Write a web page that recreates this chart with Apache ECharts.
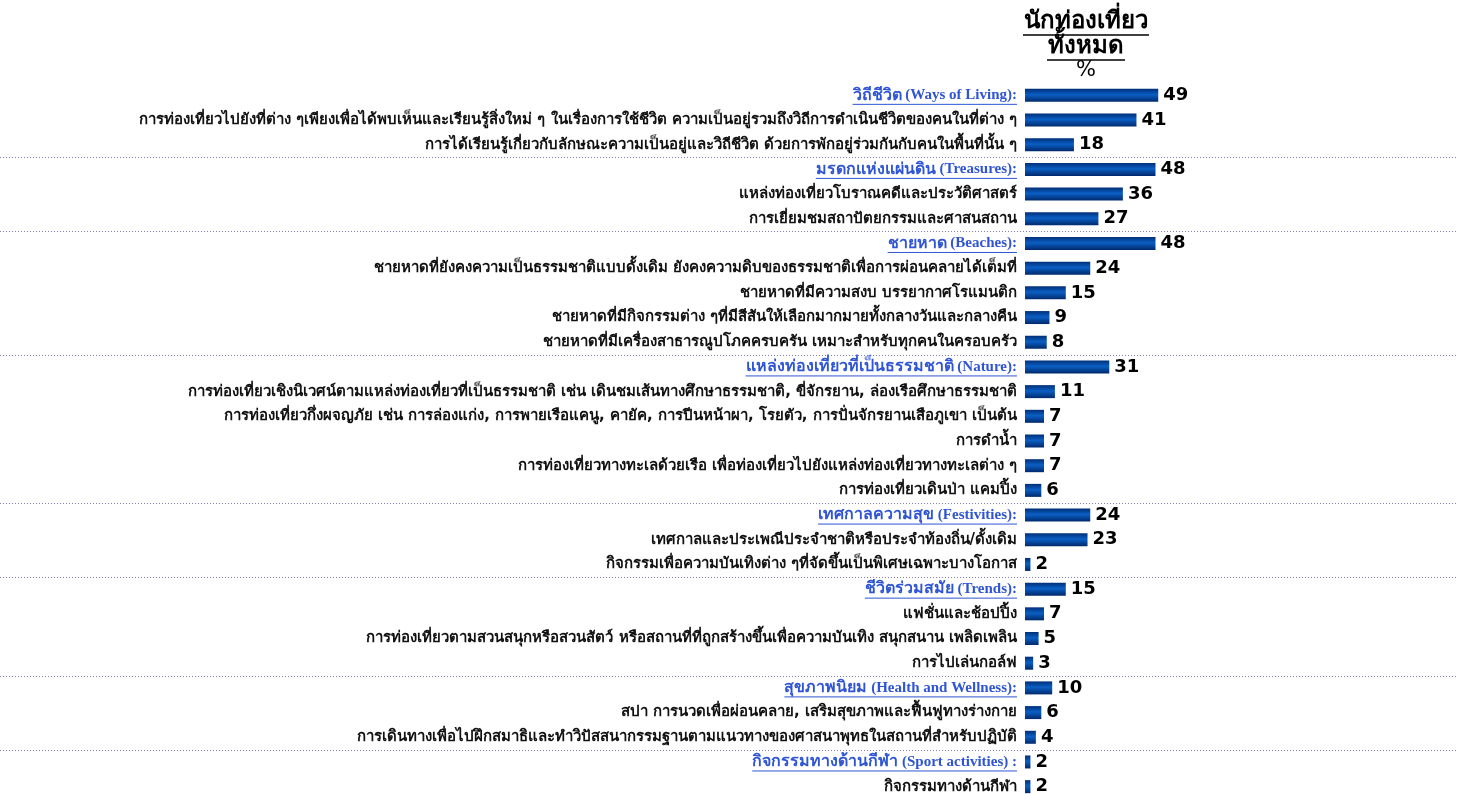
<!DOCTYPE html>
<html>
<head>
<meta charset="utf-8">
<script src="https://cdn.jsdelivr.net/npm/echarts@6/dist/echarts.min.js"></script>
<style>
  html, body { margin: 0; padding: 0; background: #ffffff; }
  #chart { width: 1464px; height: 794px; }
</style>
</head>
<body>
<div id="chart"></div>
<script>
// Travel interest by activity group (% of all tourists)
const categories = [
  'วิถีชีวิต (Ways of Living):',
  'การท่องเที่ยวไปยังที่ต่าง ๆเพียงเพื่อได้พบเห็นและเรียนรู้สิ่งใหม่ ๆ ในเรื่องการใช้ชีวิต ความเป็นอยู่รวมถึงวิถีการดำเนินชีวิตของคนในที่ต่าง ๆ',
  'การได้เรียนรู้เกี่ยวกับลักษณะความเป็นอยู่และวิถีชีวิต ด้วยการพักอยู่ร่วมกันกับคนในพื้นที่นั้น ๆ',
  'มรดกแห่งแผ่นดิน (Treasures):',
  'แหล่งท่องเที่ยวโบราณคดีและประวัติศาสตร์',
  'การเยี่ยมชมสถาปัตยกรรมและศาสนสถาน',
  'ชายหาด (Beaches):',
  'ชายหาดที่ยังคงความเป็นธรรมชาติแบบดั้งเดิม ยังคงความดิบของธรรมชาติเพื่อการผ่อนคลายได้เต็มที่',
  'ชายหาดที่มีความสงบ บรรยากาศโรแมนติก',
  'ชายหาดที่มีกิจกรรมต่าง ๆที่มีสีสันให้เลือกมากมายทั้งกลางวันและกลางคืน',
  'ชายหาดที่มีเครื่องสาธารณูปโภคครบครัน เหมาะสำหรับทุกคนในครอบครัว',
  'แหล่งท่องเที่ยวที่เป็นธรรมชาติ (Nature):',
  'การท่องเที่ยวเชิงนิเวศน์ตามแหล่งท่องเที่ยวที่เป็นธรรมชาติ เช่น เดินชมเส้นทางศึกษาธรรมชาติ, ขี่จักรยาน, ล่องเรือศึกษาธรรมชาติ',
  'การท่องเที่ยวกึ่งผจญภัย เช่น การล่องแก่ง, การพายเรือแคนู, คายัค, การปีนหน้าผา, โรยตัว, การปั่นจักรยานเสือภูเขา เป็นต้น',
  'การดำน้ำ',
  'การท่องเที่ยวทางทะเลด้วยเรือ เพื่อท่องเที่ยวไปยังแหล่งท่องเที่ยวทางทะเลต่าง ๆ',
  'การท่องเที่ยวเดินป่า แคมปิ้ง',
  'เทศกาลความสุข (Festivities):',
  'เทศกาลและประเพณีประจำชาติหรือประจำท้องถิ่น/ดั้งเดิม',
  'กิจกรรมเพื่อความบันเทิงต่าง ๆที่จัดขึ้นเป็นพิเศษเฉพาะบางโอกาส',
  'ชีวิตร่วมสมัย (Trends):',
  'แฟชั่นและช้อปปิ้ง',
  'การท่องเที่ยวตามสวนสนุกหรือสวนสัตว์ หรือสถานที่ที่ถูกสร้างขึ้นเพื่อความบันเทิง สนุกสนาน เพลิดเพลิน',
  'การไปเล่นกอล์ฟ',
  'สุขภาพนิยม (Health and Wellness):',
  'สปา การนวดเพื่อผ่อนคลาย, เสริมสุขภาพและฟื้นฟูทางร่างกาย',
  'การเดินทางเพื่อไปฝึกสมาธิและทำวิปัสสนากรรมฐานตามแนวทางของศาสนาพุทธในสถานที่สำหรับปฏิบัติ',
  'กิจกรรมทางด้านกีฬา (Sport activities) :',
  'กิจกรรมทางด้านกีฬา'
];
const values = [49, 41, 18, 48, 36, 27, 48, 24, 15, 9, 8, 31, 11, 7, 7, 7, 6, 24, 23, 2, 15, 7, 5, 3, 10, 6, 4, 2, 2];
// rows that open a group (blue, underlined headings)
const groupStarts = [0, 3, 6, 11, 17, 20, 24, 27];
const headerLines = ['นักท่องเที่ยว', 'ทั้งหมด', '%'];

const LABEL_MARGIN = 8;
const THAI_FAMILY = 'Tahoma, "DejaVu Sans", "Noto Sans", sans-serif';
const SERIF_FAMILY = '"Liberation Serif", "Times New Roman", serif';
const HEAD_THAI_FONT = 'bold 16px ' + THAI_FAMILY;
const HEAD_LATIN_FONT = 'bold 15px ' + SERIF_FAMILY;
const BLUE = '#2f55d4';

// split a heading into its Thai name and the bracketed English part
function splitHeading(s) {
  const k = s.indexOf(' (');
  return k < 0 ? [s, ''] : [s.slice(0, k), s.slice(k)];
}

const chart = echarts.init(document.getElementById('chart'), null, { renderer: 'canvas' });

const barGradient = new echarts.graphic.LinearGradient(0, 0, 0, 1, [
  { offset: 0, color: '#002f78' },
  { offset: 0.45, color: '#0b5fc4' },
  { offset: 1, color: '#00296c' }
]);

const option = {
  backgroundColor: '#ffffff',
  animation: false,
  grid: { left: 1025, right: 4, top: 83, height: 716, outerBoundsMode: 'none', containLabel: false },
  xAxis: {
    type: 'value',
    min: 0,
    max: 160,
    show: false
  },
  yAxis: {
    type: 'category',
    inverse: true,
    data: categories,
    axisLine: { show: false },
    axisTick: { show: false },
    splitLine: { show: false },
    axisLabel: {
      margin: LABEL_MARGIN,
      interval: 0,
      formatter: (v, i) => {
        if (groupStarts.indexOf(i) >= 0) {
          const p = splitHeading(v);
          return '{ht|' + p[0] + '}{hl|' + p[1] + '}';
        }
        return '{n|' + v + '}';
      },
      rich: {
        ht: { fontFamily: THAI_FAMILY, fontWeight: 'bold', fontSize: 16, color: BLUE },
        hl: { fontFamily: SERIF_FAMILY, fontWeight: 'bold', fontSize: 15, color: BLUE },
        n: { fontFamily: THAI_FAMILY, fontWeight: 'bold', fontSize: 15, color: '#111111' }
      }
    }
  },
  series: [{
    type: 'bar',
    data: values,
    barWidth: 13,
    itemStyle: { color: barGradient },
    label: {
      show: true,
      position: 'right',
      distance: 5,
      color: '#000000',
      fontFamily: '"DejaVu Sans", Verdana, sans-serif',
      fontWeight: 'bold',
      fontSize: 18
    }
  }]
};
chart.setOption(option);

// heading block, group separators and underlines under group headings
function decorations() {
  const els = [];
  const zeroX = chart.convertToPixel({ xAxisIndex: 0 }, 0);
  const ctx = document.createElement('canvas').getContext('2d');

  const centerX = 1086;
  const titleFont = 'bold 24px ' + THAI_FAMILY;
  ctx.font = titleFont;
  const ys = [22, 47];
  headerLines.slice(0, 2).forEach((t, k) => {
    els.push({
      type: 'text', silent: true,
      x: centerX, y: ys[k],
      style: { text: t, font: titleFont, fill: '#000', align: 'center', verticalAlign: 'middle' }
    });
    const w = ctx.measureText(t).width;
    els.push({
      type: 'line', silent: true,
      shape: { x1: centerX - w / 2 - 1, y1: ys[k] + 13, x2: centerX + w / 2 + 1, y2: ys[k] + 13 },
      style: { stroke: '#000', lineWidth: 1.5 }
    });
  });
  els.push({
    type: 'text', silent: true,
    x: centerX, y: 71,
    style: { text: headerLines[2], font: '21px "DejaVu Sans", sans-serif', fill: '#000', align: 'center', verticalAlign: 'middle' }
  });

  groupStarts.forEach((i) => {
    const y = chart.convertToPixel({ yAxisIndex: 0 }, categories[i]);
    // dotted rule midway between the previous row and this group's heading
    if (i > 0) {
      const yPrev = chart.convertToPixel({ yAxisIndex: 0 }, categories[i - 1]);
      const yb = Math.round((y + yPrev) / 2) + 0.5;
      els.push({
        type: 'line', silent: true,
        shape: { x1: 0, y1: yb, x2: 1458, y2: yb },
        style: { stroke: '#7c7cb8', lineWidth: 1, lineDash: [1, 2] }
      });
    }
    const p = splitHeading(categories[i]);
    ctx.font = HEAD_THAI_FONT;
    let w = ctx.measureText(p[0]).width;
    ctx.font = HEAD_LATIN_FONT;
    w += ctx.measureText(p[1]).width;
    const xr = zeroX - LABEL_MARGIN;
    els.push({
      type: 'line', silent: true,
      shape: { x1: xr - w, y1: y + 9, x2: xr, y2: y + 9 },
      style: { stroke: BLUE, lineWidth: 1 }
    });
  });
  return els;
}
chart.setOption({ graphic: { elements: decorations() } });
</script>
</body>
</html>
